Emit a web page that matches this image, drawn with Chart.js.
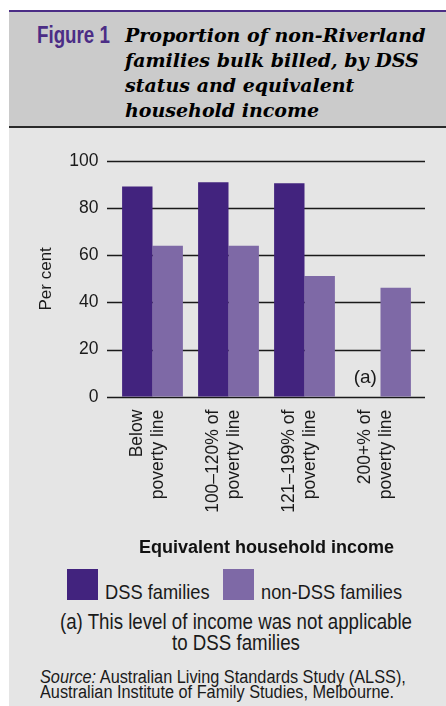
<!DOCTYPE html>
<html>
<head>
<meta charset="utf-8">
<script src="https://cdn.jsdelivr.net/npm/chart.js@4"></script>
<style>
  html, body { margin: 0; padding: 0; background: #ffffff; }
  body { width: 446px; height: 706px; position: relative; overflow: hidden;
         font-family: 'Liberation Sans', Arial, sans-serif; color: #1a1a1a; }
  #panel { position: absolute; left: 9px; top: 10px; width: 437px; height: 696px;
           background: #e5e5e5; border-top: 2px solid #4b2d86; }
  #head { position: absolute; left: 0; top: 0; width: 437px; height: 114px;
          background: #cbcbcb; border-bottom: 2px solid #2a2a2a; }
  #fig { position: absolute; left: 28px; top: 9.5px; font-weight: bold; font-size: 24px;
         color: #4b2d86; line-height: 25px; white-space: nowrap;
         transform: scaleX(0.78); transform-origin: 0 0; }
  #title { position: absolute; left: 116px; top: 11.3px; width: 330px; font-family: 'DejaVu Serif', serif;
           font-style: italic; font-weight: bold; font-size: 19px; line-height: 24.8px; color: #000; }
  #wrap { position: absolute; left: 0; top: 127px; width: 446px; height: 440px; }
  #legend { position: absolute; left: 67px; top: 569px; height: 31px; font-size: 21px; }
  .item { position: absolute; top: 0; height: 31px; white-space: nowrap; }
  .box { position: absolute; left: 0; top: 0; width: 31px; height: 31px; }
  .lab { position: absolute; left: 38px; top: 12px; line-height: 21px;
         transform: scaleX(0.87); transform-origin: 0 0; }
  #note { position: absolute; left: 0; width: 472px; top: 612px; text-align: center; font-size: 22px;
          line-height: 20.5px; transform: scaleX(0.85); transform-origin: 50% 0; }
  #src { position: absolute; left: 40px; top: 669.5px; font-size: 18px; line-height: 15.5px; white-space: nowrap;
         transform: scaleX(0.905); transform-origin: 0 0; }
</style>
</head>
<body>
<div id="panel">
  <div id="head">
    <div id="fig">Figure 1</div>
    <div id="title">Proportion of non-Riverland<br>families bulk billed, by DSS<br>status and equivalent<br>household income</div>
  </div>
</div>
<div id="wrap"><canvas id="chart"></canvas></div>
<div id="legend"></div>
<div id="note">(a) This level of income was not applicable<br>to DSS families</div>
<div id="src"><i>Source:</i> Australian Living Standards Study (ALSS),<br>Australian Institute of Family Studies, Melbourne.</div>

<script>
// kategorie dochodu (etykiety pionowe, dwie linie)
var kategorie = [
  ["Below", "poverty line"],
  ["100\u2013120% of", "poverty line"],
  ["121\u2013199% of", "poverty line"],
  ["200+% of", "poverty line"]
];
// odsetek rodzin z bulk billing
var dss = [89.2, 91, 90.6, null];
var nonDss = [64, 64, 51.2, 46.2];
var yTicki = [0, 20, 40, 60, 80, 100];
var uwagaTekst = "(a)";
var uwagaWartosc = 8;

var czcionka = "'Liberation Sans', Arial, sans-serif";
var kolorDss = '#42237e';
var kolorNonDss = '#7e69a6';

// linie siatki troche dluzsze niz obszar wykresu
var siatka = {
  id: 'siatka',
  beforeDatasetsDraw: function(chart) {
    var ctx = chart.ctx, y = chart.scales.y, a = chart.chartArea;
    ctx.save();
    ctx.strokeStyle = '#1a1a1a';
    ctx.lineWidth = 1.4;
    yTicki.forEach(function(v) {
      var py = Math.round(y.getPixelForValue(v)) + 0.5;
      ctx.beginPath();
      ctx.moveTo(a.left - 7.5, py);
      ctx.lineTo(a.right + 6.5, py);
      ctx.stroke();
    });
    ctx.restore();
  },
  afterDatasetsDraw: function(chart) {
    // "(a)" tam gdzie bylby slupek DSS
    var ctx = chart.ctx, y = chart.scales.y;
    var meta = chart.getDatasetMeta(1).data[3];
    var px = meta.x - meta.width;
    ctx.save();
    ctx.font = '19px ' + czcionka;
    ctx.fillStyle = '#1a1a1a';
    ctx.textAlign = 'center';
    ctx.textBaseline = 'middle';
    ctx.fillText(uwagaTekst, px, y.getPixelForValue(uwagaWartosc));
    ctx.restore();
  }
};

var ctx = document.getElementById('chart');
var wykres = new Chart(ctx, {
  type: 'bar',
  data: {
    labels: kategorie,
    datasets: [
      { label: 'DSS families', data: dss, backgroundColor: kolorDss },
      { label: 'non-DSS families', data: nonDss, backgroundColor: kolorNonDss }
    ]
  },
  options: {
    responsive: true,
    maintainAspectRatio: false,
    animation: false,
    devicePixelRatio: 1,
    layout: { padding: { top: 34, right: 27.5, left: 0, bottom: 0 } },
    datasets: { bar: { barPercentage: 1, categoryPercentage: 0.8 } },
    plugins: { legend: { display: false }, tooltip: { enabled: false } },
    scales: {
      x: {
        grid: { display: false, drawTicks: false },
        border: { display: false },
        ticks: {
          minRotation: 90, maxRotation: 90, autoSkip: false,
          padding: 13, labelOffset: -15,
          color: '#1a1a1a', font: { family: czcionka, size: 17.5, lineHeight: 1.2 }
        },
        title: {
          display: true, text: 'Equivalent household income', color: '#111',
          font: { family: czcionka, size: 18, weight: 'bold' }, padding: { bottom: 8 }
        },
        afterFit: function(s) { s.height = 170.3; }
      },
      y: {
        min: 0, max: 100,
        grid: { display: false, drawTicks: false },
        border: { display: false },
        afterBuildTicks: function(s) { s.ticks = yTicki.map(function(v) { return { value: v }; }); },
        ticks: { padding: 16, color: '#1a1a1a', font: { family: czcionka, size: 17.5 } },
        title: {
          display: true, text: 'Per cent', color: '#1a1a1a',
          font: { family: czcionka, size: 17 }, padding: { top: 36.5 }
        },
        afterFit: function(s) { s.width = 114.5; }
      }
    }
  },
  plugins: [siatka]
});

// legenda z danych wykresu
var leg = document.getElementById('legend');
var pozycje = [0, 156];
wykres.data.datasets.forEach(function(d, i) {
  var it = document.createElement('div');
  it.className = 'item';
  it.style.left = pozycje[i] + 'px';
  it.innerHTML = '<div class="box" style="background:' + d.backgroundColor + '"></div><div class="lab">' + d.label + '</div>';
  leg.appendChild(it);
});
</script>
</body>
</html>
